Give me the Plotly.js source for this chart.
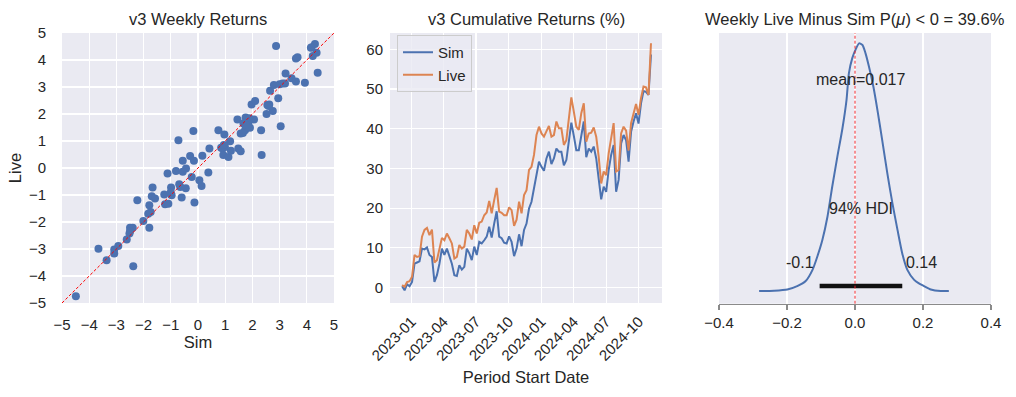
<!DOCTYPE html>
<html>
<head>
<meta charset="utf-8">
<script src="https://cdn.plot.ly/plotly-3.0.1.min.js"></script>
<style>html,body{margin:0;padding:0;background:#fff;}#chart{width:1016px;height:397px;}</style>
</head>
<body>
<div id="chart"></div>
<script>
// ---- Panel 1: weekly returns (Sim vs Live) ----
const simWeekly = [-4.49,-3.66,-3.36,-3.08,-3.08,-2.93,-2.62,-2.52,-2.50,-2.40,-2.38,-2.23,-2.01,-1.83,-1.79,-1.79,-1.74,-1.70,-1.67,-1.58,
  -1.24,-1.21,-1.12,-1.09,-0.99,-0.97,-0.81,-0.72,-0.69,-0.60,-0.56,-0.56,-0.44,-0.29,-0.23,-0.17,-0.15,-0.13,0.05,0.13,
  0.16,0.38,0.42,0.75,0.91,0.93,0.97,0.99,1.12,1.18,1.21,1.45,1.48,1.57,1.57,1.67,1.73,1.75,1.85,1.91,
  1.89,1.97,2.06,2.10,2.32,2.34,2.52,2.55,2.62,2.65,2.75,2.79,2.87,2.95,3.04,3.11,3.20,3.22,3.44,3.60,
  3.60,3.66,3.93,4.18,4.22,4.30,4.36,4.40,0.85,1.80,-0.45,2.60,-2.50,-1.00,3.00,1.65,-0.65,0.95,1.75,4.15];
const liveWeekly = [-4.75,-2.99,-3.42,-3.02,-3.17,-2.89,-2.65,-2.43,-2.21,-2.21,-3.64,-1.19,-1.96,-1.69,-1.38,-2.21,-1.63,-1.05,-0.72,-1.13,
  -0.98,-1.34,-0.20,-1.32,-0.72,-1.01,-0.11,1.03,-0.60,-1.09,0.27,-0.14,-0.02,0.44,-0.33,1.37,0.27,-1.28,-0.45,-0.67,
  0.45,-0.17,0.72,1.40,0.72,0.48,1.24,0.78,0.41,0.99,0.64,1.80,0.72,0.62,1.28,1.65,1.40,1.87,1.65,1.49,
  1.84,2.35,1.80,2.48,1.40,0.48,2.00,2.33,2.35,2.86,2.11,3.07,4.52,2.58,1.55,3.13,3.13,3.50,3.32,3.20,
  4.06,4.10,3.16,4.47,4.15,4.59,4.27,3.53,0.75,1.50,-0.75,2.30,-2.35,-0.90,3.10,1.30,-0.70,0.85,1.60,4.45];
const refLine = [-5, 5];
const scatterTicks = [-5,-4,-3,-2,-1,0,1,2,3,4,5];

// ---- Panel 2: cumulative returns (%) ----
const periodDates = [
 "2022-12-05","2022-12-12","2022-12-19","2022-12-26",
 "2023-01-02","2023-01-09","2023-01-16","2023-01-23","2023-01-30",
 "2023-02-06","2023-02-13","2023-02-20","2023-02-27",
 "2023-03-06","2023-03-13","2023-03-20","2023-03-27",
 "2023-04-03","2023-04-10","2023-04-17","2023-04-24",
 "2023-05-01","2023-05-08","2023-05-15","2023-05-22","2023-05-29",
 "2023-06-05","2023-06-12","2023-06-19","2023-06-26",
 "2023-07-03","2023-07-10","2023-07-17","2023-07-24","2023-07-31",
 "2023-08-07","2023-08-14","2023-08-21","2023-08-28",
 "2023-09-04","2023-09-11","2023-09-18","2023-09-25",
 "2023-10-02","2023-10-09","2023-10-16","2023-10-23","2023-10-30",
 "2023-11-06","2023-11-13","2023-11-20","2023-11-27",
 "2023-12-04","2023-12-11","2023-12-18","2023-12-25",
 "2024-01-01","2024-01-08","2024-01-15","2024-01-22","2024-01-29",
 "2024-02-05","2024-02-12","2024-02-19","2024-02-26",
 "2024-03-04","2024-03-11","2024-03-18","2024-03-25",
 "2024-04-01","2024-04-08","2024-04-15","2024-04-22","2024-04-29",
 "2024-05-06","2024-05-13","2024-05-20","2024-05-27",
 "2024-06-03","2024-06-10","2024-06-17","2024-06-24",
 "2024-07-01","2024-07-08","2024-07-15","2024-07-22","2024-07-29",
 "2024-08-05","2024-08-12","2024-08-19","2024-08-26",
 "2024-09-02","2024-09-09","2024-09-16","2024-09-23","2024-09-30",
 "2024-10-07","2024-10-14","2024-10-21","2024-10-28",
 "2024-11-04"];
const simCum = [0.3,-0.7,0.8,0.3,1.4,6.0,6.3,6.6,9.8,9.6,10.1,8.2,7.7,1.4,3.1,6.0,9.8,8.2,9.8,7.7,
  6.0,3.1,2.9,5.6,4.5,5.2,9.8,8.6,6.9,10.3,8.2,11.5,11.1,11.9,12.8,15.3,12.6,16.1,19.2,12.8,
  12.4,11.3,11.1,12.9,11.5,7.9,9.8,13.4,10.4,14.5,16.1,19.9,21.6,25.0,28.7,31.7,30.4,29.4,32.5,34.2,
  31.1,32.5,35.0,34.2,34.2,30.8,32.1,37.1,41.5,38.2,34.6,34.6,38.8,41.8,32.8,35.0,34.2,35.5,32.5,27.9,
  22.2,25.4,24.1,29.6,33.4,35.9,24.1,27.1,36.3,38.4,37.1,31.7,39.2,41.8,43.9,41.3,46.4,49.5,49.3,48.5,58.7];
const liveCum = [0.6,0.2,1.4,1.6,2.7,8.2,7.7,7.9,12.8,14.5,15.0,13.2,14.6,6.3,6.9,9.8,12.5,11.9,13.6,12.4,
  11.1,7.3,7.7,10.7,9.8,10.3,14.5,13.6,12.1,15.7,13.6,16.3,16.6,18.2,18.9,21.8,18.7,22.0,25.1,19.1,
  18.8,18.2,18.2,20.2,19.5,15.5,17.1,21.6,18.7,23.3,24.5,29.6,30.4,33.4,38.4,40.5,38.8,38.0,39.2,40.7,
  38.0,38.4,41.8,40.1,40.1,35.9,37.1,43.0,47.9,44.3,40.5,39.7,43.9,46.4,36.7,38.8,39.0,40.3,38.0,32.9,
  26.2,29.2,28.3,33.8,37.8,41.4,29.2,29.6,38.8,40.5,39.5,34.5,41.4,43.9,46.2,43.5,47.7,50.6,50.4,48.5,61.5];
const cumTickVals = ["2023-01-01","2023-04-01","2023-07-01","2023-10-01","2024-01-01","2024-04-01","2024-07-01","2024-10-01"];
const cumTickText = ["2023-01","2023-04","2023-07","2023-10","2024-01","2024-04","2024-07","2024-10"];

// ---- Panel 3: posterior of weekly Live minus Sim mean ----
const muGrid = [-0.282,-0.238,-0.199,-0.170,-0.145,-0.125,-0.111,-0.096,-0.081,-0.067,-0.052,-0.037,-0.025,-0.018,-0.008,0.002,0.012,0.022,
  0.031,0.041,0.054,0.066,0.080,0.095,0.110,0.125,0.139,0.154,0.174,0.188,0.203,0.223,0.252,0.276];
const muDensity = [0.0,0.01,0.04,0.125,0.25,0.53,0.86,1.28,1.86,2.61,3.36,4.07,4.78,5.45,5.83,6.05,6.20,6.16,
  5.95,5.62,5.12,4.53,3.78,2.95,2.20,1.53,0.94,0.53,0.28,0.19,0.125,0.04,0.0,0.0];
const muMean = 0.017;
const hdiBounds = [-0.104, 0.139];
const hdiLabels = ["-0.1", "0.14"];
const postTicks = [-0.4,-0.2,0.0,0.2,0.4];

const FONT = "'Liberation Sans', Arial, sans-serif";
const TXT = "#262626";
const BG = "#EAEAF2";
const BLUE = "#4C72B0", ORANGE = "#DD8452";

const yTop = (397-33)/397, yBot = (397-303)/397;
const plotH = 6.46;

const traces = [
  {type:"scatter", mode:"markers", x:simWeekly, y:liveWeekly, xaxis:"x", yaxis:"y",
   marker:{color:BLUE, size:8, line:{width:0}}, showlegend:false, hoverinfo:"skip"},
  {type:"scatter", mode:"lines", x:refLine, y:refLine, xaxis:"x", yaxis:"y",
   line:{color:"red", width:1, dash:"3px,2px"}, showlegend:false, hoverinfo:"skip"},
  {type:"scatter", mode:"lines", name:"Sim", x:periodDates, y:simCum, xaxis:"x2", yaxis:"y2",
   line:{color:BLUE, width:2}},
  {type:"scatter", mode:"lines", name:"Live", x:periodDates, y:liveCum, xaxis:"x2", yaxis:"y2",
   line:{color:ORANGE, width:2}},
  {type:"scatter", mode:"lines", x:muGrid, y:muDensity, xaxis:"x3", yaxis:"y3",
   line:{color:BLUE, width:2, shape:"spline", smoothing:0.6}, showlegend:false, hoverinfo:"skip"},
  {type:"scatter", mode:"lines", x:hdiBounds, y:[plotH*0.02, plotH*0.02], xaxis:"x3", yaxis:"y3",
   line:{color:"#111", width:4.5}, showlegend:false, hoverinfo:"skip"}
];

const tickFont = {family:FONT, size:15, color:TXT};
const titleFont = {family:FONT, size:16.5, color:TXT};

const layout = {
  width:1016, height:397, autosize:false,
  margin:{l:0, r:0, t:0, b:0},
  paper_bgcolor:"#fff", plot_bgcolor:BG,
  font:{family:FONT, color:TXT},
  showlegend:true,
  legend:{x:397/1016, y:(397-35)/397, xanchor:"left", yanchor:"top", xref:"paper", yref:"paper",
    bgcolor:"rgba(234,234,242,0.8)", bordercolor:"#cccccc", borderwidth:1,
    font:{family:FONT, size:15, color:TXT}, tracegroupgap:0},
  xaxis:{domain:[62/1016, 334/1016], anchor:"y", range:[-5,5], tickvals:scatterTicks,
    showgrid:true, gridcolor:"#fff", gridwidth:1.2, zeroline:false, showline:false,
    ticks:"outside", ticklen:8, tickcolor:"rgba(0,0,0,0)", tickfont:tickFont,
    title:{text:"Sim", font:titleFont, standoff:3}},
  yaxis:{domain:[yBot, yTop], anchor:"x", range:[-5,5], tickvals:scatterTicks,
    showgrid:true, gridcolor:"#fff", gridwidth:1.2, zeroline:false, showline:false,
    ticks:"outside", ticklen:12, tickcolor:"rgba(0,0,0,0)", tickfont:tickFont,
    title:{text:"Live", font:titleFont, standoff:3}},
  xaxis2:{domain:[390/1016, 662/1016], anchor:"y2", type:"date", range:["2022-11-01","2024-12-05"],
    tickvals:cumTickVals, ticktext:cumTickText, tickangle:-45,
    showgrid:true, gridcolor:"#fff", gridwidth:1.2, zeroline:false, showline:false,
    ticks:"outside", ticklen:3, tickcolor:"rgba(0,0,0,0)", tickfont:tickFont,
    title:{text:"Period Start Date", font:titleFont, standoff:8}},
  yaxis2:{domain:[yBot, yTop], anchor:"x2", range:[-3.9, 64.1], tickvals:[0,10,20,30,40,50,60],
    showgrid:true, gridcolor:"#fff", gridwidth:1.2, zeroline:false, showline:false,
    ticks:"outside", ticklen:3, tickcolor:"rgba(0,0,0,0)", tickfont:tickFont},
  xaxis3:{domain:[719/1016, 991/1016], anchor:"y3", range:[-0.4,0.4], tickvals:postTicks, tickformat:".1f",
    showgrid:true, gridcolor:"#fff", gridwidth:1.2, zeroline:false,
    showline:true, linecolor:"#8a8a8a", linewidth:1.5, ticks:"outside", ticklen:5, tickwidth:1.3, tickcolor:"#8a8a8a",
    tickfont:tickFont},
  yaxis3:{domain:[(397-303.7)/397, yTop], anchor:"x3", range:[-0.317, plotH],
    showgrid:false, zeroline:false, showline:false, showticklabels:false, ticks:""},
  shapes:[
    {type:"line", xref:"x3", yref:"y3 domain", x0:0, x1:0, y0:0, y1:1,
     line:{color:"#e8202a", width:1, dash:"3px,2px"}}
  ],
  annotations:[
    {text:"v3 Weekly Returns", xref:"paper", yref:"paper", x:198/1016, y:yTop, xanchor:"center", yanchor:"bottom",
     yshift:3, showarrow:false, font:titleFont},
    {text:"v3 Cumulative Returns (%)", xref:"paper", yref:"paper", x:526/1016, y:yTop, xanchor:"center", yanchor:"bottom",
     yshift:3, showarrow:false, font:titleFont},
    {text:"Weekly Live Minus Sim P(<i>μ</i>) &lt; 0 = 39.6%", xref:"paper", yref:"paper", x:855/1016, y:yTop, xanchor:"center", yanchor:"bottom",
     yshift:3, showarrow:false, font:titleFont},
    {text:"mean=" + muMean.toFixed(3), xref:"x3", yref:"y3", x:muMean, y:plotH*0.82, xanchor:"center", yanchor:"middle",
     showarrow:false, font:{family:FONT, size:16, color:TXT}},
    {text:"94% HDI", xref:"x3", yref:"y3", x:muMean, y:plotH*0.32, xanchor:"center", yanchor:"middle",
     showarrow:false, font:{family:FONT, size:16, color:TXT}},
    {text:hdiLabels[0], xref:"x3", yref:"y3", x:hdiBounds[0], y:plotH*0.07, xanchor:"right", yanchor:"bottom",
     xshift:-4, showarrow:false, font:{family:FONT, size:16, color:TXT}},
    {text:hdiLabels[1], xref:"x3", yref:"y3", x:hdiBounds[1], y:plotH*0.07, xanchor:"left", yanchor:"bottom",
     xshift:2, showarrow:false, font:{family:FONT, size:16, color:TXT}}
  ]
};

Plotly.newPlot("chart", traces, layout, {displayModeBar:false, staticPlot:true});
</script>
</body>
</html>
